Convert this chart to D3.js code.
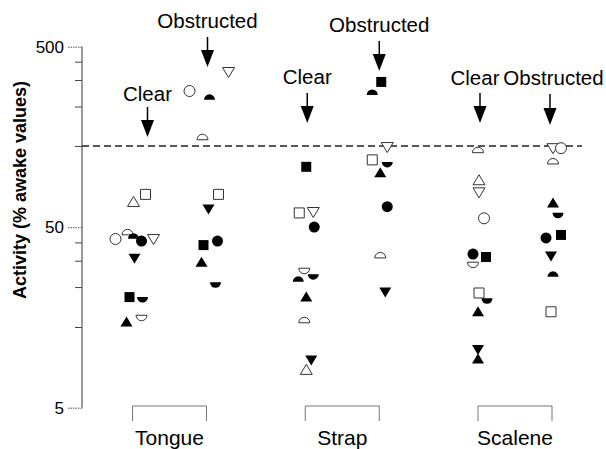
<!DOCTYPE html>
<html><head><meta charset="utf-8">
<script src="https://cdn.jsdelivr.net/npm/d3@7"></script>
<style>body{margin:0;background:#fff}svg{display:block}</style>
</head><body><svg id="c" width="606" height="449"></svg>
<script>
const muscles = ["Tongue", "Strap", "Scalene"];
const conditions = ["Clear", "Obstructed"];
const yTickLabels = [5, 50, 500];
const yMinorTicks = [14, 23.3, 32.6, 41.2, 141, 233, 327, 413];
const referenceLine = 141;
// [symbol, value (% awake), horizontal jitter]
const tongueClear = [["triUp",69,1],["square",76,13],["circle",43,-17],["dome",47,-5],["domeFilled",44.7,1],["circleFilled",41.9,9],["triDown",43,21],["triDownFilled",33.7,2],["squareFilled",20.5,-3],["bowlFilled",19.8,10],["triUpFilled",14.9,-6],["bowl",15.7,9]];
const tongueObstructed = [["triDown",362,22],["circle",284,-17],["domeFilled",263,3],["dome",158,-4],["square",76,12],["triDownFilled",63,2],["squareFilled",39.8,-3],["circleFilled",41.9,11],["triUpFilled",32,-5],["bowlFilled",23.9,9]];
const strapClear = [["squareFilled",108,1],["square",60,-6],["triDown",60.7,8],["circleFilled",50.1,9],["bowl",28.6,-1],["domeFilled",25.8,-7],["bowlFilled",26.5,8],["triUpFilled",20.5,1],["dome",15.3,-1],["triDownFilled",9.2,6],["triUp",8.1,1]];
const strapObstructed = [["squareFilled",319,2],["domeFilled",280,-7],["triDown",139,8],["square",118,-7],["bowlFilled",111,8],["triUpFilled",100,1],["circleFilled",65,8],["dome",35,1],["triDownFilled",21.9,6]];
const scaleneClear = [["dome",134,0],["triUp",91,1],["triDown",78,1],["circle",56,6],["circleFilled",35.5,-5],["squareFilled",34.2,8],["bowl",30.9,-5],["square",21.6,1],["bowlFilled",19.5,9],["triUpFilled",17,0],["triDownFilled",10.5,0],["triUpFilled",9.3,0]];
const scaleneObstructed = [["triDown",137,1],["circle",137,9],["dome",116,1],["triUpFilled",68,1],["bowlFilled",58,6],["circleFilled",43.6,-6],["squareFilled",45.3,9],["triDownFilled",34.6,-1],["domeFilled",27.5,1],["square",17,-1]];

const groups = [
  {muscle:"Tongue", cond:"Clear", pts:tongueClear},
  {muscle:"Tongue", cond:"Obstructed", pts:tongueObstructed},
  {muscle:"Strap", cond:"Clear", pts:strapClear},
  {muscle:"Strap", cond:"Obstructed", pts:strapObstructed},
  {muscle:"Scalene", cond:"Clear", pts:scaleneClear},
  {muscle:"Scalene", cond:"Obstructed", pts:scaleneObstructed}
];

const svg = d3.select("#c");
const FONT = "'Liberation Sans', Arial, Helvetica, sans-serif";
const axisX = 82;
const y = d3.scaleLog().domain([5, 500]).range([407.7, 46.7]);
const xm = d3.scalePoint().domain(muscles).range([169.5, 515]);
const xc = d3.scalePoint().domain(conditions).range([-37, 37]);
const xj = d3.scaleLinear().domain([-1, 1]).range([-1, 1]);
const cx = (m, c) => xm(m) + xc(c);

// reference line
svg.append("line").attr("x1", axisX).attr("x2", 582)
  .attr("y1", y(referenceLine)).attr("y2", y(referenceLine))
  .attr("stroke", "#222").attr("stroke-width", 1.4).attr("stroke-dasharray", "7,4");

// y axis
const ax = svg.append("g").attr("transform", `translate(${axisX},0)`)
  .call(d3.axisLeft(y).tickValues(yTickLabels).tickFormat(d3.format("d")).tickSize(14).tickPadding(4));
ax.select(".domain").attr("stroke", "#333").attr("d", `M0,${y(500)}V${y(5)}`);
ax.selectAll(".tick line").attr("stroke", "#555").attr("stroke-dasharray", "1.5,1");
ax.selectAll(".tick text").attr("font-family", FONT).attr("font-size", 17).attr("fill", "#000");
const mn = svg.append("g").attr("transform", `translate(${axisX},0)`)
  .call(d3.axisLeft(y).tickValues(yMinorTicks).tickFormat("").tickSize(7));
mn.select(".domain").remove();
mn.selectAll(".tick line").attr("stroke", "#444");

svg.append("text").attr("transform", `translate(26,190) rotate(-90)`)
  .attr("text-anchor", "middle").attr("font-family", FONT).attr("font-weight", "bold")
  .attr("font-size", 18).text("Activity (% awake values)");

// category brackets and labels
muscles.forEach(m => {
  const x1 = cx(m, "Clear"), x2 = cx(m, "Obstructed");
  svg.append("path").attr("d", `M${x1},421V406H${x2}V421`).attr("fill", "none")
    .attr("stroke", "#777").attr("stroke-width", 1);
  svg.append("text").attr("x", xm(m)).attr("y", 445).attr("text-anchor", "middle")
    .attr("font-family", FONT).attr("font-size", 21).text(m);
});

// annotation arrows
const arrows = [
  {m:"Tongue", c:"Clear", dx:15, ax:15, ty:101, s:107, t:137},
  {m:"Tongue", c:"Obstructed", dx:1, ax:1, ty:28, s:37, t:67},
  {m:"Strap", c:"Clear", dx:2, ax:2, ty:84, s:93, t:123},
  {m:"Strap", c:"Obstructed", dx:0, ax:0, ty:32, s:41, t:71},
  {m:"Scalene", c:"Clear", dx:-3, ax:2, ty:85, s:93, t:123},
  {m:"Scalene", c:"Obstructed", dx:1.5, ax:-2, ty:85, s:94, t:125}
];
arrows.forEach(a => {
  const x = cx(a.m, a.c) + a.ax;
  svg.append("text").attr("x", cx(a.m, a.c) + a.dx).attr("y", a.ty).attr("text-anchor", "middle")
    .attr("font-family", FONT).attr("font-size", 20.5).text(a.c);
  svg.append("line").attr("x1", x).attr("x2", x).attr("y1", a.s).attr("y2", a.t - 14)
    .attr("stroke", "#000").attr("stroke-width", 1.5);
  svg.append("path").attr("d", `M${x-6.5},${a.t-17}L${x+6.5},${a.t-17}L${x},${a.t}Z`).attr("fill", "#000");
});

// markers
const r = 5.5;
const shapes = {
  circle: `M${r},0A${r},${r} 0 1 1 ${-r},0A${r},${r} 0 1 1 ${r},0Z`,
  square: "M-5,-5H5V5H-5Z",
  triUp: "M0,-5.5L6,4.5L-6,4.5Z",
  triDown: "M0,5.5L6,-4.5L-6,-4.5Z",
  dome: `M${-r},${r/2}A${r},${r} 0 0 1 ${r},${r/2}Z`,
  bowl: `M${-r},${-r/2}A${r},${r} 0 0 0 ${r},${-r/2}Z`
};
const flat = [];
groups.forEach(g => g.pts.forEach(p => flat.push({m:g.muscle, c:g.cond, sym:p[0], v:p[1], j:p[2]})));
svg.append("g").selectAll("path").data(flat).join("path")
  .attr("transform", d => `translate(${cx(d.m, d.c) + xj(d.j)},${y(d.v)})`)
  .attr("d", d => shapes[d.sym.replace("Filled", "")])
  .attr("fill", d => d.sym.endsWith("Filled") ? "#000" : "#fff")
  .attr("stroke", d => d.sym.endsWith("Filled") ? "none" : "#333")
  .attr("stroke-width", 1);
</script></body></html>
